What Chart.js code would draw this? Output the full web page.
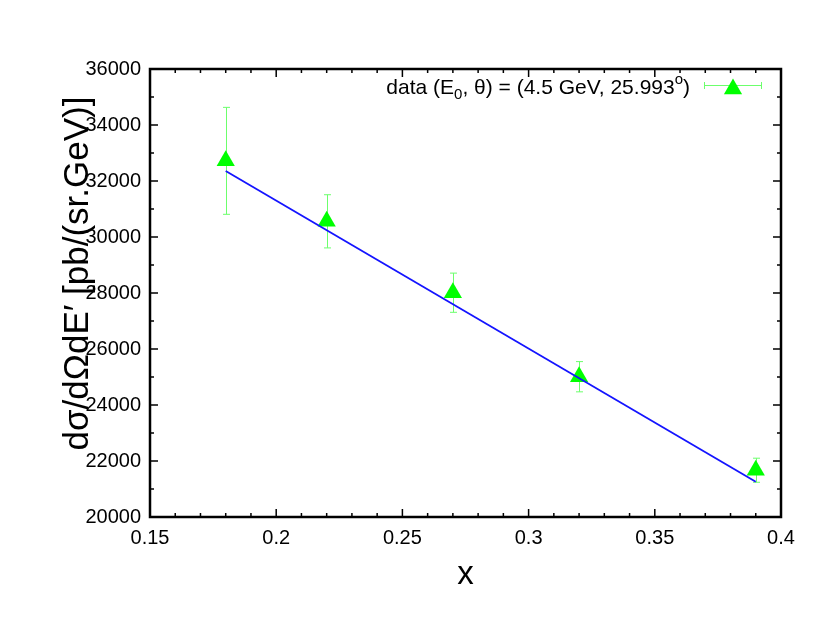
<!DOCTYPE html>
<html>
<head>
<meta charset="utf-8">
<script src="https://cdn.jsdelivr.net/npm/chart.js@4.4.1/dist/chart.umd.min.js"></script>
<style>
  html, body { margin: 0; padding: 0; background: #fff; }
  #wrap { width: 830px; height: 642px; }
</style>
</head>
<body>
<div id="wrap"><canvas id="xsChart"></canvas></div>
<script>
// measured points (x, cross section, error)
const xValues = [0.18, 0.22, 0.27, 0.32, 0.39];
const yValues = [32720, 30560, 28010, 25010, 21670];
const yErrors = [1910, 950, 700, 540, 430];

// blue fit line, read at its two ends
const fitX = [0.18, 0.39];
const fitY = [32360, 21260];

const xTicks = [0.15, 0.2, 0.25, 0.3, 0.35, 0.4];
const yTicks = [20000, 22000, 24000, 26000, 28000, 30000, 32000, 34000, 36000];

const dataLabel = ['data (E', '0', ', \u03b8) = (4.5 GeV, 25.993', 'o', ')'];

const FONT = '"Liberation Sans", Arial, sans-serif';
const GREEN = '#00ff00';
const BAR_GREEN = '#6cff6c';

// error bars under the points
const errorBars = {
  id: 'errorBars',
  beforeDatasetsDraw(chart) {
    const ctx = chart.ctx, xs = chart.scales.x, ys = chart.scales.y;
    ctx.save();
    ctx.strokeStyle = BAR_GREEN;
    ctx.lineWidth = 1;
    xValues.forEach((xv, i) => {
      const px = Math.round(xs.getPixelForValue(xv)) + 0.5;
      const top = ys.getPixelForValue(yValues[i] + yErrors[i]);
      const bot = ys.getPixelForValue(yValues[i] - yErrors[i]);
      ctx.beginPath();
      ctx.moveTo(px, top); ctx.lineTo(px, bot);
      ctx.moveTo(px - 3.5, top); ctx.lineTo(px + 3.5, top);
      ctx.moveTo(px - 3.5, bot); ctx.lineTo(px + 3.5, bot);
      ctx.stroke();
    });
    ctx.restore();
  }
};

// gnuplot style frame with inward ticks, plus the key
const frame = {
  id: 'frame',
  afterDraw(chart) {
    const ctx = chart.ctx, a = chart.chartArea;
    const xs = chart.scales.x, ys = chart.scales.y;
    ctx.save();
    ctx.strokeStyle = '#000';
    ctx.lineWidth = 1.5;
    ctx.beginPath();
    for (let v = 0.15; v <= 0.4001; v += 0.01) {
      const px = xs.getPixelForValue(v);
      const major = Math.abs(Math.round(v * 20) - v * 20) < 1e-6;
      const len = major ? 8 : 4;
      ctx.moveTo(px, a.bottom); ctx.lineTo(px, a.bottom - len);
      ctx.moveTo(px, a.top); ctx.lineTo(px, a.top + len);
    }
    for (let v = 20000; v <= 36000; v += 1000) {
      const py = ys.getPixelForValue(v);
      const len = v % 2000 === 0 ? 8 : 4;
      ctx.moveTo(a.left, py); ctx.lineTo(a.left + len, py);
      ctx.moveTo(a.right, py); ctx.lineTo(a.right - len, py);
    }
    ctx.stroke();
    ctx.lineWidth = 2.5;
    ctx.strokeRect(a.left, a.top, a.right - a.left, a.bottom - a.top);

    // key
    const big = '21px ' + FONT, small = '15px ' + FONT;
    const baseY = 94;
    let w = 0;
    dataLabel.forEach((s, i) => {
      ctx.font = (i === 1 || i === 3) ? small : big;
      w += ctx.measureText(s).width;
    });
    let tx = 690 - w;
    ctx.fillStyle = '#000';
    ctx.textBaseline = 'alphabetic';
    ctx.textAlign = 'left';
    dataLabel.forEach((s, i) => {
      ctx.font = (i === 1 || i === 3) ? small : big;
      const dy = i === 1 ? 5 : (i === 3 ? -10 : 0);
      ctx.fillText(s, tx, baseY + dy);
      tx += ctx.measureText(s).width;
    });
    ctx.strokeStyle = BAR_GREEN;
    ctx.lineWidth = 1;
    ctx.beginPath();
    ctx.moveTo(704, 85.5); ctx.lineTo(762, 85.5);
    ctx.moveTo(704.5, 82); ctx.lineTo(704.5, 89);
    ctx.moveTo(761.5, 82); ctx.lineTo(761.5, 89);
    ctx.stroke();
    ctx.fillStyle = GREEN;
    Chart.helpers.drawPoint(ctx, { pointStyle: 'triangle', radius: 10.5, rotation: 0, borderWidth: 0 }, 733, 89);
    ctx.restore();
  }
};

const chart = new Chart(document.getElementById('xsChart'), {
  type: 'scatter',
  data: {
    datasets: [
      {
        label: 'fit',
        data: fitX.map((x, i) => ({ x: x, y: fitY[i] })),
        showLine: true,
        borderColor: '#1414ff',
        borderWidth: 1.8,
        pointRadius: 0,
        order: 0
      },
      {
        label: dataLabel.join(''),
        data: xValues.map((x, i) => ({ x: x, y: yValues[i] })),
        pointStyle: 'triangle',
        pointRadius: 10.5,
        backgroundColor: GREEN,
        borderColor: GREEN,
        borderWidth: 0,
        order: 1
      }
    ]
  },
  options: {
    responsive: true,
    maintainAspectRatio: false,
    animation: false,
    events: [],
    layout: { padding: { left: 0, right: 49, top: 69, bottom: 0 } },
    plugins: { legend: { display: false }, tooltip: { enabled: false } },
    scales: {
      x: {
        type: 'linear',
        min: 0.15,
        max: 0.4,
        afterBuildTicks: s => { s.ticks = xTicks.map(v => ({ value: v })); },
        afterFit: s => { s.height = 125; },
        grid: { display: false, drawTicks: false },
        border: { display: false },
        ticks: { color: '#000', padding: 9, maxRotation: 0, font: { family: FONT, size: 20 }, callback: v => String(v) },
        title: { display: true, text: 'x', color: '#000', font: { family: FONT, size: 33 }, padding: { top: 0, bottom: 47 } }
      },
      y: {
        type: 'linear',
        min: 20000,
        max: 36000,
        afterBuildTicks: s => { s.ticks = yTicks.map(v => ({ value: v })); },
        afterFit: s => { s.width = 150; },
        grid: { display: false, drawTicks: false },
        border: { display: false },
        ticks: { color: '#000', padding: 9, font: { family: FONT, size: 20 }, callback: v => String(v) },
        title: { display: true, text: '    d\u03c3/d\u03a9dE\u2032 [pb/(sr.GeV)]', color: '#000', font: { family: FONT, size: 35 }, padding: { top: 57, bottom: 0 } }
      }
    }
  },
  plugins: [errorBars, frame]
});
</script>
</body>
</html>
